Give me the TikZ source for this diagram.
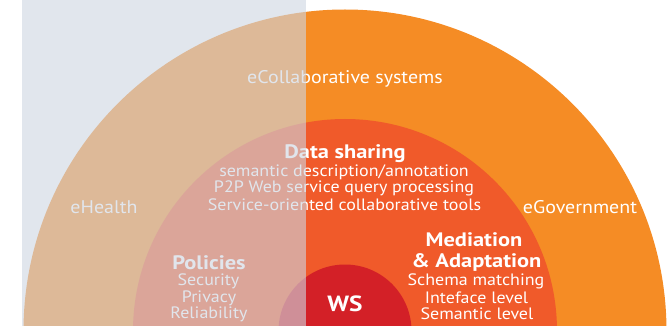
\documentclass[tikz,border=0pt]{standalone}
\usepackage{fontspec}
\setmainfont{PT Sans}[FakeStretch=1.09, BoldFeatures={FakeStretch=1.15}]
\definecolor{outerC}{HTML}{F58C25}
\definecolor{midC}{HTML}{F05A2A}
\definecolor{innerC}{HTML}{D32027}
\definecolor{veilC}{RGB}{206,214,225}
\tikzset{
  lbl/.style={text=white, inner sep=0pt, anchor=center, font=\fontsize{16.5}{17}\selectfont},
  big/.style={lbl, font=\fontsize{18.3}{19}\selectfont},
  head/.style={lbl, font=\fontsize{19.5}{20}\selectfont\bfseries},
}
\begin{document}
\begin{tikzpicture}[x=1pt,y=-1pt]
\useasboundingbox (0,0) rectangle (667,326);
\clip (0,0) rectangle (667,326);
\coordinate (ctr) at (345,331);
\fill[outerC] (ctr) circle (321.5);
\fill[midC] (ctr) circle (212);
\fill[innerC] (ctr) circle (66.5);
% texts
\node[big] (collab) at (345,79) {eCollaborative systems};
\node[big] (health) at (104,207) {eHealth};
\node[big] (gov) at (580,207) {eGovernment};
\node[head] (data) at (345,154) {Data sharing};
\node[lbl] (d1) at (344,172) {semantic description/annotation};
\node[lbl] (d2) at (344,188) {P2P Web service query processing};
\node[lbl] (d3) at (344.5,205) {Service-oriented collaborative tools};
\node[head] (pol) at (209,262.5) {Policies};
\node[lbl] (p1) at (208.5,281.5) {Security};
\node[lbl] (p2) at (209,298) {Privacy};
\node[lbl] (p3) at (209,314) {Reliability};
\node[head] (med) at (474,240) {Mediation};
\node[head] (adapt) at (476.5,262.5) {\&~Adaptation};
\node[lbl] (m1) at (476,281.5) {Schema matching};
\node[lbl] (m2) at (476.5,298) {Inteface level};
\node[lbl] (m3) at (477,314) {Semantic level};
\node[head, font=\fontsize{22}{24}\selectfont\bfseries] (ws) at (345,304) {WS};
% veil over the left half
\fill[veilC, fill opacity=0.61] (22,0) rectangle (306,326);
\end{tikzpicture}
\end{document}
